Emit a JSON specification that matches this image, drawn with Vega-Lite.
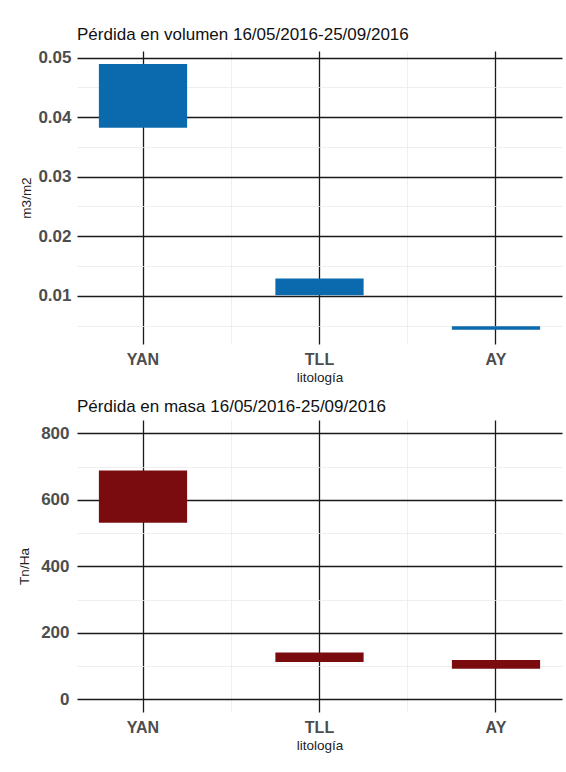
{
  "$schema": "https://vega.github.io/schema/vega-lite/v6.json",
  "padding": {"left": 17, "top": 26, "right": 4, "bottom": 5},
  "background": "white",
  "bounds": "flush",
  "spacing": 76,
  "config": {
    "font": "Liberation Sans",
    "view": {"stroke": null},
    "axis": {"domain": false, "ticks": false}
  },
  "vconcat": [
    {
      "width": 485,
      "height": 293,
      "title": {"text": "Pérdida en volumen 16/05/2016-25/09/2016", "anchor": "start", "frame": "group", "fontSize": 17, "fontWeight": "normal", "color": "#111", "baseline": "alphabetic", "offset": -8.5, "font": "Liberation Sans"},
      "data": {"values": [
        {"litologia": "YAN", "min": 0.0382, "max": 0.0489},
        {"litologia": "TLL", "min": 0.0101, "max": 0.0129},
        {"litologia": "AY", "min": 0.0043, "max": 0.0049}
      ]},
      "resolve": {"axis": {"x": "independent", "y": "independent"}},
      "layer": [
        {
          "mark": {"type": "bar", "opacity": 0},
          "encoding": {
            "x": {"field": "litologia", "type": "nominal", "sort": ["YAN", "TLL", "AY"],
              "scale": {"paddingInner": 0.5, "paddingOuter": 0.124},
              "axis": {"orient": "bottom", "labels": false, "title": null, "grid": true, "gridColor": "#EBEBEB", "gridWidth": 0.8, "bandPosition": 1.5, "values": ["YAN", "TLL"]}},
            "y": {"field": "min", "type": "quantitative", "scale": {"domain": [0.0019, 0.0511], "nice": false, "zero": false},
              "axis": {"orient": "left", "labels": false, "title": null, "grid": true, "gridColor": "#EBEBEB", "gridWidth": 0.8, "values": [0.005, 0.015, 0.025, 0.035, 0.045]}},
            "y2": {"field": "max"}
          }
        },
        {
          "mark": {"type": "bar", "color": "#0B6AAE"},
          "encoding": {
            "x": {"field": "litologia", "type": "nominal", "sort": ["YAN", "TLL", "AY"],
              "axis": {"orient": "bottom", "labelAngle": 0, "labelFontSize": 16, "labelFontWeight": "bold", "labelColor": "#4D4D4D", "labelPadding": 7.5,
                "grid": true, "gridColor": "#1A1A1A", "gridWidth": 1.3, "bandPosition": 0.5,
                "title": "litología", "titleFontSize": 13.5, "titleFontWeight": "normal", "titleColor": "#222", "titlePadding": 2.5}},
            "y": {"field": "min", "type": "quantitative",
              "axis": {"orient": "left", "values": [0.01, 0.02, 0.03, 0.04, 0.05], "format": ".2f", "labelFontSize": 17, "labelFontWeight": "bold", "labelColor": "#4D4D4D", "labelPadding": 6,
                "grid": true, "gridColor": "#1A1A1A", "gridWidth": 1.3,
                "title": "m3/m2", "titleFontSize": 13.5, "titleFontWeight": "normal", "titleColor": "#222", "titlePadding": 4}},
            "y2": {"field": "max"}
          }
        }
      ]
    },
    {
      "width": 485,
      "height": 292,
      "title": {"text": "Pérdida en masa 16/05/2016-25/09/2016", "anchor": "start", "frame": "group", "fontSize": 17, "fontWeight": "normal", "color": "#111", "baseline": "alphabetic", "offset": -8.5, "font": "Liberation Sans"},
      "data": {"values": [
        {"litologia": "YAN", "min": 531, "max": 688},
        {"litologia": "TLL", "min": 112, "max": 141},
        {"litologia": "AY", "min": 92, "max": 118}
      ]},
      "resolve": {"axis": {"x": "independent", "y": "independent"}},
      "layer": [
        {
          "mark": {"type": "bar", "opacity": 0},
          "encoding": {
            "x": {"field": "litologia", "type": "nominal", "sort": ["YAN", "TLL", "AY"],
              "scale": {"paddingInner": 0.5, "paddingOuter": 0.124},
              "axis": {"orient": "bottom", "labels": false, "title": null, "grid": true, "gridColor": "#EBEBEB", "gridWidth": 0.8, "bandPosition": 1.5, "values": ["YAN", "TLL"]}},
            "y": {"field": "min", "type": "quantitative", "scale": {"domain": [-38, 840], "nice": false, "zero": false},
              "axis": {"orient": "left", "labels": false, "title": null, "grid": true, "gridColor": "#EBEBEB", "gridWidth": 0.8, "values": [100, 300, 500, 700]}},
            "y2": {"field": "max"}
          }
        },
        {
          "mark": {"type": "bar", "color": "#7A0C10"},
          "encoding": {
            "x": {"field": "litologia", "type": "nominal", "sort": ["YAN", "TLL", "AY"],
              "axis": {"orient": "bottom", "labelAngle": 0, "labelFontSize": 16, "labelFontWeight": "bold", "labelColor": "#4D4D4D", "labelPadding": 7.5,
                "grid": true, "gridColor": "#1A1A1A", "gridWidth": 1.3, "bandPosition": 0.5,
                "title": "litología", "titleFontSize": 13.5, "titleFontWeight": "normal", "titleColor": "#222", "titlePadding": 2.5}},
            "y": {"field": "min", "type": "quantitative",
              "axis": {"orient": "left", "values": [0, 200, 400, 600, 800], "labelFontSize": 17, "labelFontWeight": "bold", "labelColor": "#4D4D4D", "labelPadding": 8,
                "grid": true, "gridColor": "#1A1A1A", "gridWidth": 1.3,
                "title": "Tn/Ha", "titleFontSize": 13.5, "titleFontWeight": "normal", "titleColor": "#222", "titlePadding": 9}},
            "y2": {"field": "max"}
          }
        }
      ]
    }
  ]
}
